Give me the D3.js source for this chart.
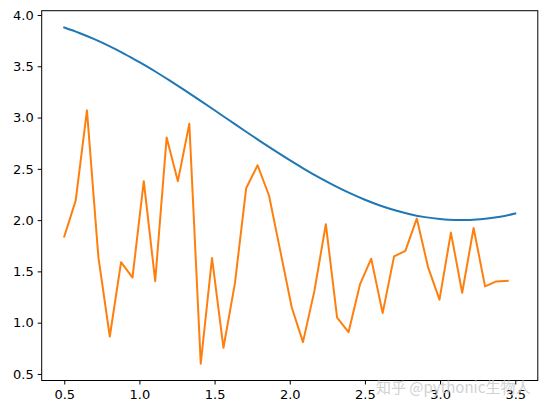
<!DOCTYPE html>
<html>
<head>
<meta charset="utf-8">
<script src="https://cdn.jsdelivr.net/npm/d3@7"></script>
<style>
  html, body { margin: 0; padding: 0; background: #fff; }
  svg { display: block; }
  .tick text { font-family: "DejaVu Sans", sans-serif; }
</style>
</head>
<body>
<svg id="chart" width="547" height="414"></svg>
<script>
// Blue series (smooth curve)
const blueX = [0.5,0.6,0.7,0.8,0.9,1.0,1.1,1.2,1.3,1.4,1.5,1.6,1.7,1.8,1.9,2.0,2.1,2.2,2.3,2.4,2.5,2.6,2.7,2.8,2.9,3.0,3.1,3.2,3.3,3.4,3.5];
const blueY = [3.878,3.825,3.765,3.697,3.622,3.540,3.454,3.362,3.267,3.170,3.071,2.971,2.871,2.773,2.677,2.584,2.495,2.411,2.334,2.263,2.199,2.143,2.096,2.058,2.029,2.010,2.001,2.002,2.013,2.033,2.064];

// Orange series (noisy)
const orangeX = [0.500,0.576,0.651,0.727,0.803,0.878,0.954,1.029,1.105,1.181,1.256,1.332,1.408,1.483,1.559,1.635,1.710,1.786,1.862,1.937,2.013,2.088,2.164,2.240,2.315,2.391,2.467,2.542,2.618,2.694,2.769,2.845,2.921,2.996,3.072,3.147,3.223,3.299,3.374,3.450];
const orangeY = [1.84,2.19,3.07,1.64,0.865,1.59,1.44,2.38,1.405,2.805,2.38,2.94,0.60,1.63,0.755,1.38,2.31,2.535,2.24,1.70,1.15,0.81,1.31,1.96,1.05,0.907,1.373,1.624,1.093,1.646,1.70,2.015,1.536,1.224,1.878,1.292,1.923,1.354,1.402,1.409];

const xTicks = [0.5,1.0,1.5,2.0,2.5,3.0,3.5];
const yTicks = [0.5,1.0,1.5,2.0,2.5,3.0,3.5,4.0];
const watermark = "知乎 @pythonic生物人";

(function () {
const svg = d3.select("#chart");
const pl = 41.7, pr = 537.8, pt = 10.7, pb = 380.5;

const allX = blueX.concat(orangeX), allY = blueY.concat(orangeY);
const [x0, x1] = d3.extent(allX), [y0, y1] = d3.extent(allY);
const mx = (x1 - x0) * 0.05, my = (y1 - y0) * 0.05;

const x = d3.scaleLinear().domain([x0 - mx, x1 + mx]).range([pl, pr]);
const y = d3.scaleLinear().domain([y0 - my, y1 + my]).range([pb, pt]);

const blueLine = d3.line().x(d => x(d[0])).y(d => y(d[1])).curve(d3.curveMonotoneX);
const orangeLine = d3.line().x(d => x(d[0])).y(d => y(d[1]));

svg.append("path")
  .datum(blueX.map((v, i) => [v, blueY[i]]))
  .attr("d", blueLine)
  .attr("fill", "none").attr("stroke", "#1f77b4").attr("stroke-width", 2.0)
  .attr("stroke-linejoin", "round").attr("stroke-linecap", "square");

svg.append("path")
  .datum(orangeX.map((v, i) => [v, orangeY[i]]))
  .attr("d", orangeLine)
  .attr("fill", "none").attr("stroke", "#ff7f0e").attr("stroke-width", 2.0)
  .attr("stroke-linejoin", "round").attr("stroke-linecap", "square");

svg.append("rect")
  .attr("x", pl).attr("y", pt)
  .attr("width", pr - pl).attr("height", pb - pt)
  .attr("fill", "none").attr("stroke", "#000").attr("stroke-width", 1);

const xAxis = d3.axisBottom(x).tickValues(xTicks).tickFormat(d3.format(".1f")).tickSize(4).tickPadding(5);
const yAxis = d3.axisLeft(y).tickValues(yTicks).tickFormat(d3.format(".1f")).tickSize(4).tickPadding(4);

const gx = svg.append("g").attr("transform", `translate(0,${pb})`).call(xAxis);
const gy = svg.append("g").attr("transform", `translate(${pl},0)`).call(yAxis);
[gx, gy].forEach(a => {
  a.select(".domain").remove();
  a.selectAll(".tick line").attr("stroke", "#000").attr("stroke-width", 1);
  a.selectAll(".tick text").attr("fill", "#000").style("font-size", "13px");
});

svg.append("text")
  .attr("x", 376).attr("y", 393)
  .attr("font-family", "Noto Sans CJK SC, sans-serif")
  .attr("font-size", 15)
  .attr("fill", "#c8c8c8").attr("opacity", 0.8)
  .text(watermark);
})();
</script>
</body>
</html>
